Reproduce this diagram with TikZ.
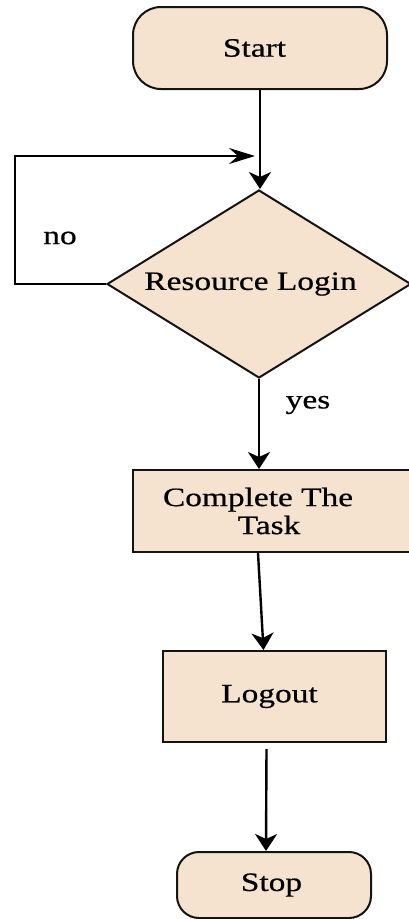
\documentclass[tikz,border=0pt]{standalone}
\usepackage{fontspec}
\setmainfont[FakeStretch=1.26,FakeBold=0.6]{Liberation Serif}
\usetikzlibrary{shapes.geometric,arrows.meta}
\definecolor{boxfill}{RGB}{245,226,207}
\definecolor{edge}{RGB}{20,20,20}
\begin{document}
\begin{tikzpicture}[x=1pt,y=-1pt,
  font=\fontsize{26.5}{28}\selectfont,
  shapebase/.style={draw=edge, line width=2pt, fill=boxfill, inner sep=2pt, align=center},
  term/.style={shapebase, rectangle},
  proc/.style={shapebase, rectangle},
  decision/.style={shapebase, diamond, aspect=1.62, minimum width=304pt, minimum height=188pt},
  conn/.style={draw=black, line width=2.4pt},
  varr/.style={conn, -{Stealth[length=17pt,width=22pt,inset=5pt]}},
  harr/.style={conn, line width=2pt, -{Stealth[length=26pt,width=16pt,inset=9pt]}},
  lbl/.style={inner sep=0pt}]
\useasboundingbox (0,0) rectangle (409,919);

\node[term, minimum width=254pt, minimum height=82pt, rounded corners=28pt] (start) at (260,48) {\hspace*{-11pt}Start};
\node[decision] (login) at (259,284) {\hspace*{-17pt}Resource Login};
\node[proc, minimum width=280pt, minimum height=82pt] (task) at (273,511) {\hspace*{-30pt}Complete The\\\hspace*{-8pt}Task};
\node[proc, minimum width=223pt, minimum height=91pt] (logout) at (274.5,696.5) {\hspace*{-10pt}Logout};
\node[term, minimum width=194pt, minimum height=66pt, rounded corners=22pt] (stop) at (274,885) {\hspace*{-5pt}Stop};

\node[lbl] (no) at (60,238) {no};
\node[lbl] (yes) at (308,405) {yes};

\coordinate (loopc) at (15,156);

\draw[varr] (start.south) -- (start.south |- login.north);
\draw[harr, shorten >=5pt] (login.west) -| (loopc) -- (start.south |- loopc);
\draw[varr] (login.south) -- (login.south |- task.north);
\draw[varr] ([xshift=-15pt]task.south) -- ([xshift=-11pt]logout.north);
\draw[varr] ([xshift=-8pt,yshift=-6pt]logout.south) -- ([xshift=-8pt]stop.north);
\end{tikzpicture}
\end{document}
